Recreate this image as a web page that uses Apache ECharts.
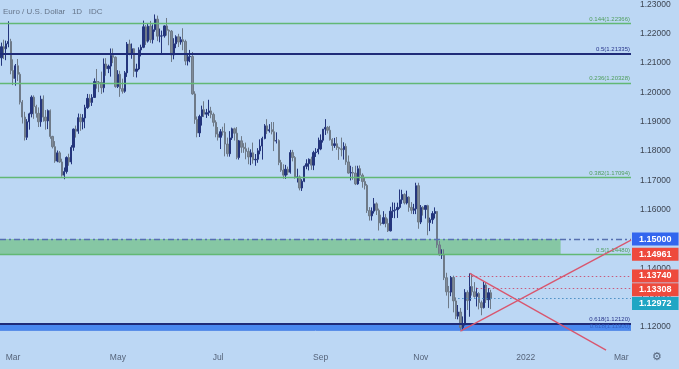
<!DOCTYPE html>
<html><head><meta charset="utf-8">
<script src="https://cdn.jsdelivr.net/npm/echarts@6/dist/echarts.min.js"></script>
<style>html,body{margin:0;padding:0;background:#bcd7f4;}#c{width:679px;height:369px;}</style>
</head><body><div id="c"></div>
<script>
// Bar index 0 = 22 Feb 2021 (daily, weekdays)
const opens = [
1.2118,1.2156,1.2149,1.2166,1.2174, 1.2075,1.2048,1.2091,1.2062,1.1967,
1.1916,1.1847,1.1900,1.1927,1.1984, 1.1952,1.1929,1.1900,1.1977,1.1916,
1.1903,1.1938,1.1850,1.1815,1.1766, 1.1794,1.1763,1.1718,1.1730,1.1778,
1.1763,1.1813,1.1875,1.1868,1.1914, 1.1900,1.1913,1.1948,1.1980,1.1966,
1.1983,1.2037,1.2035,1.2034,1.2016, 1.2097,1.2081,1.2090,1.2126,1.2120,
1.2020,1.2062,1.2013,1.2004,1.2067, 1.2165,1.2130,1.2149,1.2072,1.2080,
1.2145,1.2154,1.2224,1.2175,1.2226, 1.2180,1.2214,1.2250,1.2192,1.2193,
1.2193,1.2227,1.2212,1.2209,1.2128, 1.2166,1.2190,1.2172,1.2180,1.2174,
1.2107,1.2122,1.2123,1.1995,1.1908, 1.1862,1.1918,1.1941,1.1926,1.1931,
1.1937,1.1925,1.1898,1.1858,1.1847, 1.1866,1.1865,1.1824,1.1791,1.1845,
1.1876,1.1861,1.1778,1.1835,1.1813, 1.1808,1.1799,1.1780,1.1794,1.1770,
1.1772,1.1801,1.1817,1.1843,1.1886, 1.1869,1.1873,1.1866,1.1834,1.1836,
1.1761,1.1735,1.1718,1.1738,1.1728, 1.1795,1.1778,1.1711,1.1712,1.1674,
1.1697,1.1748,1.1757,1.1772,1.1752, 1.1795,1.1797,1.1807,1.1837,1.1875,
1.1881,1.1871,1.1839,1.1819,1.1825, 1.1812,1.1808,1.1805,1.1816,1.1763,
1.1725,1.1727,1.1725,1.1688,1.1740, 1.1718,1.1696,1.1683,1.1597,1.1579,
1.1595,1.1620,1.1598,1.1555,1.1553, 1.1573,1.1553,1.1528,1.1595,1.1598,
1.1600,1.1608,1.1634,1.1652,1.1623, 1.1643,1.1608,1.1598,1.1603,1.1682,
1.1558,1.1608,1.1601,1.1614,1.1556, 1.1566,1.1587,1.1594,1.1480,1.1446,
1.1446,1.1368,1.1320,1.1319,1.1369, 1.1289,1.1237,1.1251,1.1198,1.1208,
1.1318,1.1290,1.1338,1.1320,1.1304, 1.1314,1.1283,1.1266,1.1343,1.1293,
1.1317];
const highs = [
1.2170,1.2180,1.2177,1.2243,1.2183, 1.2113,1.2097,1.2114,1.2069,1.1974,
1.1934,1.1909,1.1931,1.1990,1.1990, 1.1958,1.1949,1.1989,1.1990,1.1940,
1.1942,1.1942,1.1852,1.1834,1.1802, 1.1800,1.1774,1.1744,1.1782,1.1791,
1.1820,1.1877,1.1887,1.1928,1.1927, 1.1926,1.1958,1.1995,1.1994,1.1994,
1.2048,1.2080,1.2039,1.2071,1.2116, 1.2117,1.2095,1.2150,1.2150,1.2123,
1.2076,1.2074,1.2047,1.2073,1.2172, 1.2180,1.2167,1.2151,1.2098,1.2154,
1.2163,1.2245,1.2230,1.2236,1.2244, 1.2232,1.2266,1.2262,1.2218,1.2211,
1.2229,1.2254,1.2215,1.2213,1.2185, 1.2195,1.2200,1.2190,1.2219,1.2180,
1.2129,1.2145,1.2138,1.2004,1.1918, 1.1924,1.1955,1.1970,1.1944,1.1975,
1.1951,1.1931,1.1905,1.1882,1.1875, 1.1883,1.1895,1.1846,1.1868,1.1880,
1.1880,1.1882,1.1838,1.1851,1.1827, 1.1829,1.1812,1.1806,1.1829,1.1790,
1.1810,1.1840,1.1849,1.1892,1.1909, 1.1892,1.1899,1.1899,1.1864,1.1840,
1.1770,1.1755,1.1753,1.1747,1.1804, 1.1804,1.1783,1.1740,1.1717,1.1704,
1.1751,1.1772,1.1775,1.1781,1.1801, 1.1810,1.1846,1.1857,1.1875,1.1909,
1.1885,1.1886,1.1844,1.1845,1.1848, 1.1815,1.1846,1.1830,1.1826,1.1785,
1.1750,1.1746,1.1750,1.1750,1.1751, 1.1724,1.1710,1.1688,1.1609,1.1608,
1.1640,1.1625,1.1604,1.1583,1.1595, 1.1586,1.1570,1.1610,1.1625,1.1624,
1.1624,1.1669,1.1668,1.1656,1.1665, 1.1646,1.1626,1.1620,1.1692,1.1692,
1.1616,1.1612,1.1616,1.1617,1.1573, 1.1595,1.1608,1.1595,1.1493,1.1465,
1.1465,1.1385,1.1340,1.1374,1.1375, 1.1301,1.1275,1.1265,1.1236,1.1329,
1.1325,1.1383,1.1382,1.1353,1.1334, 1.1319,1.1290,1.1355,1.1352,1.1333,
1.1327];
const lows = [
1.2091,1.2114,1.2110,1.2154,1.2062, 1.2025,1.2023,1.2039,1.1959,1.1894,
1.1836,1.1838,1.1873,1.1915,1.1910, 1.1914,1.1882,1.1883,1.1900,1.1873,
1.1875,1.1842,1.1809,1.1760,1.1762, 1.1760,1.1713,1.1704,1.1723,1.1750,
1.1755,1.1801,1.1846,1.1859,1.1869, 1.1874,1.1878,1.1944,1.1951,1.1954,
1.1981,1.2013,1.2001,1.1995,1.2000, 1.2057,1.2066,1.2054,1.2100,1.2016,
1.2015,1.1985,1.1996,1.1999,1.2053, 1.2127,1.2115,1.2053,1.2051,1.2076,
1.2123,1.2151,1.2162,1.2170,1.2169, 1.2167,1.2207,1.2175,1.2171,1.2134,
1.2187,1.2194,1.2161,1.2104,1.2113, 1.2151,1.2155,1.2163,1.2144,1.2093,
1.2092,1.2103,1.1992,1.1893,1.1847, 1.1848,1.1887,1.1916,1.1913,1.1920,
1.1912,1.1884,1.1847,1.1836,1.1807, 1.1853,1.1782,1.1781,1.1781,1.1838,
1.1836,1.1772,1.1771,1.1794,1.1794, 1.1772,1.1755,1.1752,1.1757,1.1750,
1.1760,1.1789,1.1771,1.1840,1.1858, 1.1863,1.1857,1.1800,1.1826,1.1752,
1.1729,1.1706,1.1705,1.1718,1.1723, 1.1765,1.1706,1.1693,1.1666,1.1664,
1.1694,1.1738,1.1734,1.1736,1.1735, 1.1780,1.1789,1.1803,1.1829,1.1855,
1.1860,1.1836,1.1801,1.1811,1.1804, 1.1770,1.1782,1.1771,1.1753,1.1723,
1.1700,1.1702,1.1684,1.1685,1.1698, 1.1675,1.1669,1.1589,1.1563,1.1563,
1.1587,1.1582,1.1529,1.1546,1.1550, 1.1540,1.1524,1.1526,1.1572,1.1571,
1.1572,1.1603,1.1620,1.1618,1.1618, 1.1593,1.1586,1.1585,1.1585,1.1535,
1.1551,1.1580,1.1570,1.1513,1.1527, 1.1552,1.1570,1.1470,1.1443,1.1432,
1.1360,1.1307,1.1264,1.1305,1.1250, 1.1227,1.1226,1.1186,1.1186,1.1205,
1.1258,1.1235,1.1307,1.1300,1.1270, 1.1260,1.1240,1.1263,1.1282,1.1265,
1.1261];
const closes = [
1.2156,1.2149,1.2166,1.2174,1.2075, 1.2048,1.2091,1.2062,1.1967,1.1916,
1.1847,1.1900,1.1927,1.1984,1.1952, 1.1929,1.1900,1.1977,1.1916,1.1903,
1.1938,1.1850,1.1815,1.1766,1.1794, 1.1763,1.1718,1.1730,1.1778,1.1763,
1.1813,1.1875,1.1868,1.1914,1.1900, 1.1913,1.1948,1.1980,1.1966,1.1983,
1.2037,1.2035,1.2034,1.2016,1.2097, 1.2081,1.2090,1.2126,1.2120,1.2020,
1.2062,1.2013,1.2004,1.2067,1.2165, 1.2130,1.2149,1.2072,1.2080,1.2145,
1.2154,1.2224,1.2175,1.2226,1.2180, 1.2214,1.2250,1.2192,1.2193,1.2193,
1.2227,1.2212,1.2209,1.2128,1.2166, 1.2190,1.2172,1.2180,1.2174,1.2107,
1.2122,1.2123,1.1995,1.1908,1.1862, 1.1918,1.1941,1.1926,1.1931,1.1937,
1.1925,1.1898,1.1858,1.1847,1.1866, 1.1865,1.1824,1.1791,1.1845,1.1876,
1.1861,1.1778,1.1835,1.1813,1.1808, 1.1799,1.1780,1.1794,1.1770,1.1772,
1.1801,1.1817,1.1843,1.1886,1.1869, 1.1873,1.1866,1.1834,1.1836,1.1761,
1.1735,1.1718,1.1738,1.1728,1.1795, 1.1778,1.1711,1.1712,1.1674,1.1697,
1.1748,1.1757,1.1772,1.1752,1.1795, 1.1797,1.1807,1.1837,1.1875,1.1881,
1.1871,1.1839,1.1819,1.1825,1.1812, 1.1808,1.1805,1.1816,1.1763,1.1725,
1.1727,1.1725,1.1688,1.1740,1.1718, 1.1696,1.1683,1.1597,1.1579,1.1595,
1.1620,1.1598,1.1555,1.1553,1.1573, 1.1553,1.1528,1.1595,1.1598,1.1600,
1.1608,1.1634,1.1652,1.1623,1.1643, 1.1608,1.1598,1.1603,1.1682,1.1558,
1.1608,1.1601,1.1614,1.1556,1.1566, 1.1587,1.1594,1.1480,1.1446,1.1446,
1.1368,1.1320,1.1319,1.1369,1.1289, 1.1237,1.1251,1.1198,1.1208,1.1318,
1.1290,1.1338,1.1320,1.1304,1.1314, 1.1283,1.1266,1.1343,1.1293,1.1317,
1.1297];

const monthTickBars = [5, 50, 93, 137, 180, 225, 266];
const monthTickLabels = ['Mar', 'May', 'Jul', 'Sep', 'Nov', '2022', 'Mar'];
const priceTicks = [1.12, 1.13, 1.14, 1.15, 1.16, 1.17, 1.18, 1.19, 1.20, 1.21, 1.22, 1.23];

const fibGreenLevels = [1.22366, 1.20328, 1.17094, 1.1448];
const fibGreenLabels = ['0.144(1.22366)', '0.236(1.20328)', '0.382(1.17094)', '0.5(1.14480)'];
const fibNavyLevels = [1.21335, 1.1212];
const fibNavyLabels = ['0.5(1.21335)', '0.618(1.12120)'];
const lowerFibLevel = 1.1190;
const lowerFibLabel = '0.618(1.11900)';
const zoneTop = 1.15;
const zoneEndBar = 240;
const risingLine = [[197, 1.1186], [270.2, 1.14961]];
const fallingLine = [[201, 1.1383], [259.5, 1.1121]];
const dottedLevels = [1.1374, 1.13308, 1.12972];
const dottedStartBars = [195, 204, 196];
const tagValues = [1.15, 1.14961, 1.1374, 1.13308, 1.12972];
const tagColors = ['#3366ee', '#ee4a3c', '#ee4a3c', '#ee4a3c', '#1fa6c4'];
const tagShift = [0, 14, 0, 1, 5];   // stacking offset of overlapping price tags (px)

const xMin = -0.58, xMax = 270.2;
const yMin = 1.11181, yMax = 1.23149;

const source = opens.map((o, i) => [i, o, closes[i], lows[i], highs[i]]);
const labelMap = {};
monthTickBars.forEach((b, i) => labelMap[b] = monthTickLabels[i]);

const GREEN = '#62b874', NAVY = '#1f2b78', RED = '#d9566e';
function hLine(v, style, label) {
  return [{coord: [xMin, v], lineStyle: style, label: label}, {coord: [xMax, v]}];
}
const markLines = [];
fibGreenLevels.forEach((v, i) => markLines.push(hLine(v, {color: GREEN, width: 1.3, type: 'solid'},
  {show: true, position: 'insideEndTop', formatter: fibGreenLabels[i], color: '#4f9e5c', fontSize: 6, distance: 1})));
fibNavyLevels.forEach((v, i) => markLines.push(hLine(v, {color: NAVY, width: 2, type: 'solid'},
  {show: true, position: 'insideEndTop', formatter: fibNavyLabels[i], color: '#26338a', fontSize: 6, distance: 1})));
markLines.push(hLine(lowerFibLevel, {color: '#5b8fe8', width: 1, type: 'solid'},
  {show: true, position: 'insideEndTop', formatter: lowerFibLabel, color: '#3561c0', fontSize: 6, distance: 1}));
markLines.push(hLine(zoneTop, {color: '#5670b0', width: 1.3, type: [6, 3, 2, 3]}, {show: false}));
dottedLevels.forEach((v, i) => markLines.push([
  {coord: [dottedStartBars[i], v], lineStyle: {color: i < 2 ? '#c85a7c' : '#4a8fc4', width: 1, type: [1.5, 2.5]}, label: {show: false}},
  {coord: [xMax, v]}
]));
markLines.push([{coord: risingLine[0], lineStyle: {color: RED, width: 1.3, type: 'solid'}, label: {show: false}}, {coord: risingLine[1]}]);
markLines.push([{coord: fallingLine[0], lineStyle: {color: RED, width: 1.3, type: 'solid'}, label: {show: false}}, {coord: fallingLine[1]}]);
tagValues.forEach((v, i) => markLines.push(hLine(v, {color: 'rgba(0,0,0,0)', width: 1},
  {show: true, position: 'end', formatter: v.toFixed(5), color: '#fff', backgroundColor: tagColors[i],
    fontSize: 9, fontWeight: 'bold', fontFamily: 'Liberation Sans', padding: [2, 7, 2, 7], distance: 1,
    offset: [0, tagShift[i]]})));

const chart = echarts.init(document.getElementById('c'));
chart.setOption({
  backgroundColor: '#bcd7f4',
  animation: false,
  title: {text: 'Euro / U.S. Dollar   1D   IDC', left: -2, top: 3,
    textStyle: {fontSize: 8, fontWeight: 'normal', color: '#66758a', fontFamily: 'Liberation Sans'}},
  grid: {left: 0, top: 0, right: 48, bottom: 18},
  xAxis: {type: 'value', min: xMin, max: xMax,
    axisLine: {show: false}, axisTick: {show: false}, splitLine: {show: false},
    axisLabel: {customValues: monthTickBars, formatter: v => labelMap[v] || '', color: '#56647a', fontSize: 8.5, margin: 2, fontFamily: 'Liberation Sans'}},
  yAxis: {type: 'value', position: 'right', min: yMin, max: yMax, scale: true,
    axisLine: {show: false}, axisTick: {show: false}, splitLine: {show: false},
    axisLabel: {customValues: priceTicks, formatter: v => v.toFixed(5), color: '#3d4552', fontSize: 8.5, margin: 9, fontFamily: 'Liberation Sans'}},
  dataset: {source: source, dimensions: ['bar', 'open', 'close', 'low', 'high']},
  graphic: [{type: 'text', right: 17, bottom: 7, style: {text: '\u2699', fill: '#55657c', fontSize: 11}}],
  series: [{
    type: 'candlestick',
    encode: {x: 0, y: [1, 2, 3, 4]},
    barWidth: 1.8,
    itemStyle: {color: '#24357c', color0: '#7f8b98', borderColor: '#24357c', borderColor0: '#6e7a88', borderWidth: 1},
    markArea: {silent: true, data: [
      [{coord: [xMin, zoneTop], itemStyle: {color: '#86c7a4'}}, {coord: [zoneEndBar, fibGreenLevels[3]]}],
      [{coord: [xMin, fibNavyLevels[1]], itemStyle: {color: '#4a88ee'}}, {coord: [xMax, lowerFibLevel]}]
    ]},
    markLine: {silent: true, symbol: 'none', precision: 5, animation: false, data: markLines}
  }]
});
</script></body></html>
